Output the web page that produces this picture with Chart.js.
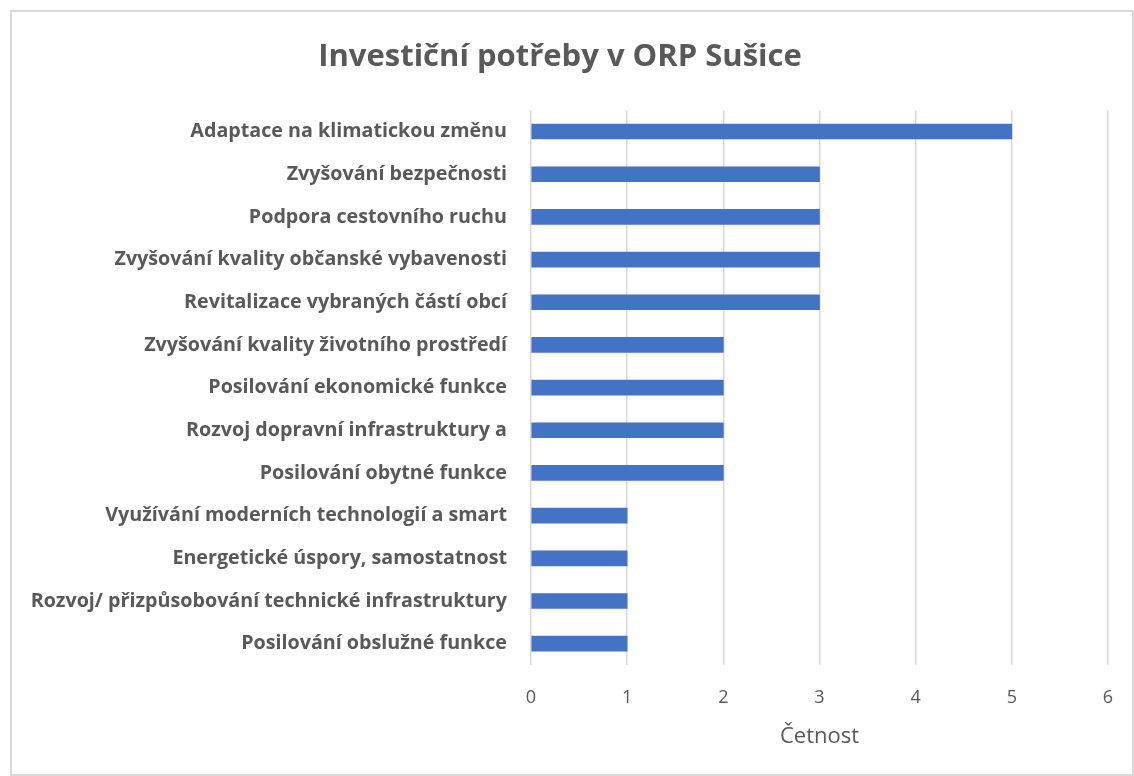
<!DOCTYPE html>
<html>
<head>
<meta charset="utf-8">
<script src="https://cdn.jsdelivr.net/npm/chart.js@4"></script>
<style>
    body { margin: 0; background: #fff; }
    #box {
        position: absolute; left: 10px; top: 10px;
        width: 1124px; height: 766px;
        border: 2px solid #d9d9d9; box-sizing: border-box;
    }
</style>
</head>
<body>
<div id="box"><canvas id="needsChart"></canvas></div>
<script>
const categories = [
    "Adaptace na klimatickou změnu",
    "Zvyšování bezpečnosti",
    "Podpora cestovního ruchu",
    "Zvyšování kvality občanské vybavenosti",
    "Revitalizace vybraných částí obcí",
    "Zvyšování kvality životního prostředí",
    "Posilování ekonomické funkce",
    "Rozvoj dopravní infrastruktury a",
    "Posilování obytné funkce",
    "Využívání moderních technologií a smart",
    "Energetické úspory, samostatnost",
    "Rozvoj/ přizpůsobování technické infrastruktury",
    "Posilování obslužné funkce"
];
const counts = [5, 3, 3, 3, 3, 2, 2, 2, 2, 1, 1, 1, 1];
const xTicks = [0, 1, 2, 3, 4, 5, 6];

const fontName = "Open Sans";
const grey = '#595959';

const ctx = document.getElementById('needsChart').getContext('2d');

// Render the chart
const needsChart = new Chart(ctx, {
    type: 'bar',
    data: {
        labels: categories,
        datasets: [{
            label: "Četnost",
            backgroundColor: '#4472C4',
            data: counts,
            barThickness: 15
        }]
    },
    options: {
        indexAxis: 'y',
        responsive: true,
        maintainAspectRatio: false,
        animation: false,
        layout: {
            padding: { left: 0, right: 24, top: 0, bottom: 0 }
        },
        plugins: {
            legend: { display: false },
            tooltip: { enabled: false },
            title: {
                display: true,
                text: "Investiční potřeby v ORP Sušice",
                color: grey,
                font: { family: fontName, size: 31, weight: 'bold' },
                padding: { top: 27, bottom: 34 }
            }
        },
        scales: {
            x: {
                min: 0,
                max: 6,
                afterBuildTicks: function(scale) {
                    scale.ticks = xTicks.map(v => ({ value: v }));
                },
                afterFit: function(scale) {
                    scale.height = 109;
                    scale.paddingLeft = 0;
                    scale.paddingRight = 0;
                },
                grid: { color: '#d9d9d9', lineWidth: 1.5, drawTicks: false },
                border: { display: false },
                ticks: {
                    color: grey,
                    padding: 22,
                    font: { family: fontName, size: 18 }
                },
                title: {
                    display: true,
                    text: "Četnost",
                    color: grey,
                    font: { family: fontName, size: 22 },
                    padding: { top: 8, bottom: 24 }
                }
            },
            y: {
                afterFit: function(scale) { scale.width = 519; },
                grid: { display: false, drawTicks: false },
                border: { display: false },
                ticks: {
                    color: grey,
                    padding: 24,
                    autoSkip: false,
                    font: { family: fontName, size: 19.7, weight: 'bold' }
                }
            }
        }
    }
});
</script>
</body>
</html>
